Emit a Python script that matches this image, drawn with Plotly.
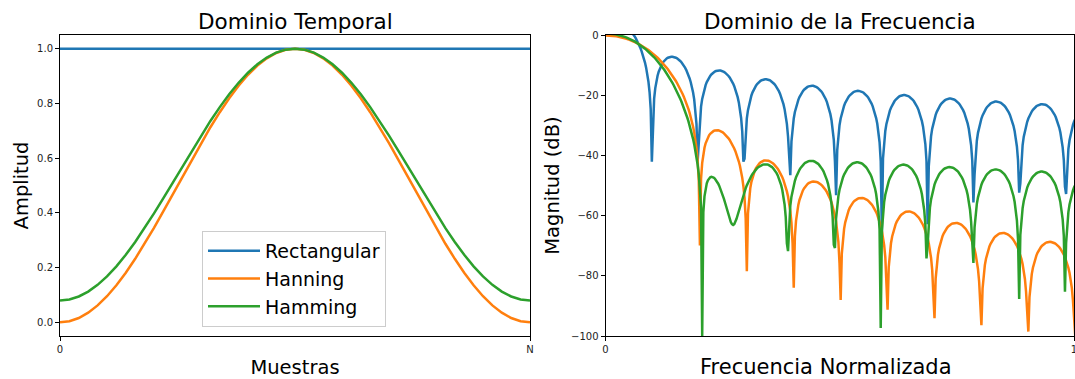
import numpy as np
import plotly.graph_objects as go

# ---- data: window definitions (generalized cosine windows) ----
window_names = ["Rectangular", "Hanning", "Hamming"]
coef_a0 = [1.0, 0.5, 0.54]
coef_a1 = [0.0, 0.5, 0.46]
n_samples = 51
nfft = 2048
fft_norm = 25.5
freq_max = 0.2          # right axis end (cycles/sample)
x_ticktext_time = ["0", "N"]
x_ticktext_freq = ["0", "1"]
colors = ["#1f77b4", "#ff7f0e", "#2ca02c"]

W, H = 1075, 379
fig = go.Figure()

n = np.arange(n_samples)
freq = np.linspace(-0.5, 0.5, nfft)
keep = (freq >= 0) & (freq <= freq_max + 0.01)

for name, a0, a1, c in zip(window_names, coef_a0, coef_a1, colors):
    w = a0 - a1 * np.cos(2 * np.pi * n / (n_samples - 1))
    fig.add_trace(go.Scatter(x=n, y=w, mode="lines", name=name,
                             line=dict(color=c, width=2.5),
                             xaxis="x", yaxis="y"))
    A = np.fft.fft(w, nfft) / fft_norm
    mag = np.abs(np.fft.fftshift(A))
    resp = 20 * np.log10(np.maximum(mag, 1e-12))
    resp = np.clip(resp, -100, 100)
    fig.add_trace(go.Scatter(x=freq[keep], y=resp[keep], mode="lines", name=name,
                             line=dict(color=c, width=2.5), showlegend=False,
                             xaxis="x2", yaxis="y2"))

ytop, ybot = 35, 336
ydom = [1 - ybot / H, 1 - ytop / H]
axstyle = dict(showline=True, mirror=True, linecolor="black", linewidth=1,
               ticks="outside", ticklen=4, tickwidth=1, tickcolor="black",
               showgrid=False, zeroline=False, automargin=False,
               ticklabeloverflow="allow",
               tickfont=dict(family="DejaVu Sans", size=10, color="#222"))
titlefont = dict(family="DejaVu Sans", size=19.5, color="black")

fig.update_layout(
    width=W, height=H,
    margin=dict(l=0, r=0, t=0, b=0),
    paper_bgcolor="white", plot_bgcolor="white",
    font=dict(family="DejaVu Sans"),
    xaxis=dict(domain=[60 / W, 530 / W], anchor="y", range=[0, n_samples - 1],
               tickvals=[0, n_samples - 1], ticktext=x_ticktext_time,
               title=dict(text="Muestras", font=titlefont, standoff=6), **axstyle),
    yaxis=dict(domain=ydom, anchor="x", range=[-0.05, 1.05], tick0=0, dtick=0.2,
               tickformat=".1f",
               title=dict(text="Amplitud", font=titlefont, standoff=3), **axstyle),
    xaxis2=dict(domain=[605.5 / W, 1074 / W], anchor="y2", range=[0, freq_max],
                tickvals=[0, freq_max], ticktext=x_ticktext_freq, **axstyle),
    yaxis2=dict(domain=ydom, anchor="x2", range=[-100, 0], tick0=0, dtick=20,
                title=dict(text="Magnitud (dB)", font=titlefont, standoff=6), **axstyle),
    legend=dict(x=202 / W, y=1 - 231 / H, xanchor="left", yanchor="top",
                itemwidth=52,
                bordercolor="#cccccc", borderwidth=1, bgcolor="rgba(255,255,255,0.8)",
                font=dict(family="DejaVu Sans", size=19, color="black")),
    showlegend=True,
    annotations=[
        dict(text="Dominio Temporal", x=(60 + 530) / 2 / W, y=1 - 21 / H,
             xref="paper", yref="paper", showarrow=False,
             xanchor="center", yanchor="middle",
             font=dict(family="DejaVu Sans", size=21.5, color="black")),
        dict(text="Dominio de la Frecuencia", x=(605.5 + 1074) / 2 / W, y=1 - 21 / H,
             xref="paper", yref="paper", showarrow=False,
             xanchor="center", yanchor="middle",
             font=dict(family="DejaVu Sans", size=21.5, color="black")),
        dict(text="Frecuencia Normalizada", x=826 / W, y=1 - 367 / H,
             xref="paper", yref="paper", showarrow=False,
             xanchor="center", yanchor="middle",
             font=dict(family="DejaVu Sans", size=21, color="black")),
    ],
)

fig.write_html("out.html")
